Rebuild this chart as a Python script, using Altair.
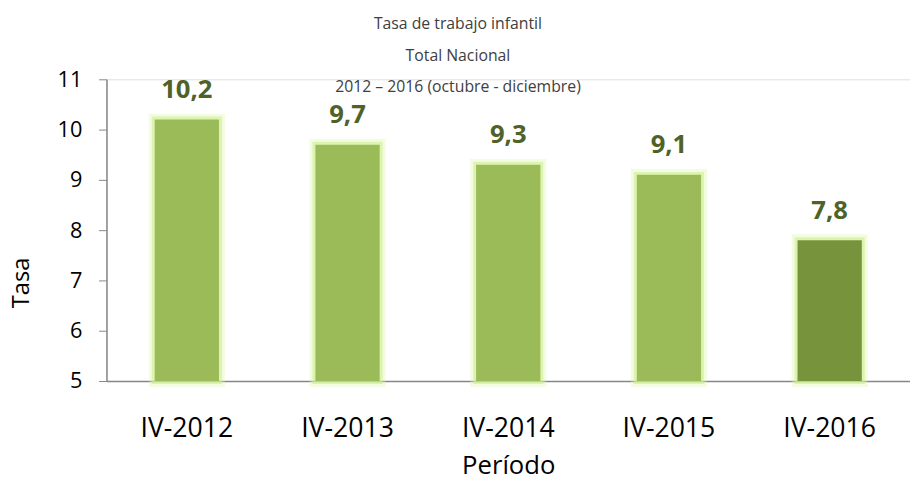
import altair as alt
import pandas as pd

periods = ["IV-2012", "IV-2013", "IV-2014", "IV-2015", "IV-2016"]
values = [10.2, 9.7, 9.3, 9.1, 7.8]
labels = ["10,2", "9,7", "9,3", "9,1", "7,8"]
colors = ["#9BBB59", "#9BBB59", "#9BBB59", "#9BBB59", "#77933C"]
y_ticks = [5, 6, 7, 8, 9, 10, 11]

df = pd.DataFrame({"Período": periods, "Tasa": values, "label": labels, "color": colors})

FONT = "Open Sans"

x = alt.X("Período:N", sort=periods,
          scale=alt.Scale(paddingInner=0.6, paddingOuter=0.3),
          axis=alt.Axis(labelAngle=0, labelFontSize=27, labelColor="#000000", labelFont=FONT,
                        ticks=False, labelPadding=35, domainColor="#868686", domainWidth=1.5,
                        titleFontSize=26, titleFont=FONT, titleFontWeight="normal",
                        titleColor="#000000", titlePadding=12))
y = alt.Y("Tasa:Q", scale=alt.Scale(domain=[5, 11], zero=False, nice=False),
          axis=alt.Axis(values=y_ticks, grid=False, labelFontSize=22, labelColor="#000000",
                        labelFont=FONT, tickSize=8, tickColor="#868686", domainColor="#868686",
                        domainWidth=1.5, labelPadding=17, titleFontSize=24, titleFont=FONT,
                        titleFontWeight="normal", titleColor="#000000",
                        titleX=-86, titleY=206, titleBaseline="middle", titleAlign="center"))

base = alt.Chart(df)

glow1 = base.mark_bar(stroke="#dcf5a8", strokeWidth=12, strokeOpacity=0.35, fillOpacity=0).encode(
    x=x, y=y, y2=alt.datum(5))
glow2 = base.mark_bar(stroke="#cfee8f", strokeWidth=6, strokeOpacity=0.6, fillOpacity=0).encode(
    x=x, y=y, y2=alt.datum(5))
bars = base.mark_bar().encode(
    x=x, y=y, y2=alt.datum(5),
    color=alt.Color("color:N", scale=None))
text = base.mark_text(baseline="bottom", dy=-17, fontSize=26, fontWeight="bold",
                      color="#4F6228", font=FONT).encode(x=x, y=y, text="label:N")

chart = alt.layer(glow1, glow2, bars, text).properties(
    width=815, height=306,
    title=alt.Title(["Tasa de trabajo infantil", "Total Nacional",
                     "2012 – 2016 (octubre - diciembre)"],
                    fontSize=16, font=FONT, fontWeight="normal", color="#404040",
                    lineHeight=32, anchor="middle", dx=-51, offset=-27),
    autosize=alt.AutoSizeParams(type="none"),
    padding={"left": 108, "top": 77, "right": 0, "bottom": 100},
).configure_view(stroke=None).configure(background="white")

chart.save("out.html", embed_options={"renderer": "svg", "actions": False})
